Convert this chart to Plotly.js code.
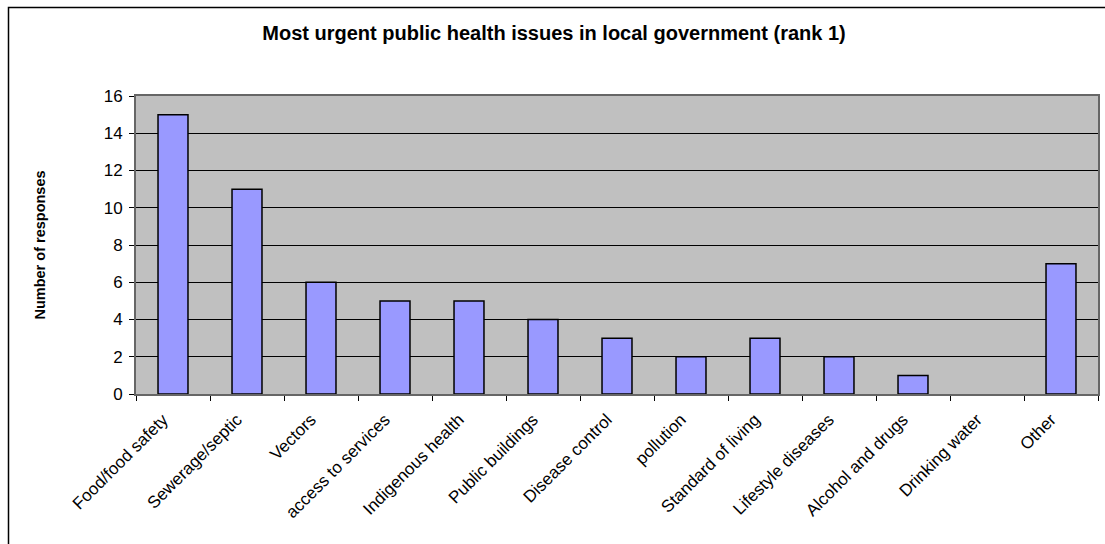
<!DOCTYPE html>
<html>
<head>
<meta charset="utf-8">
<script src="https://cdn.plot.ly/plotly-3.0.1.min.js"></script>
<style>html,body{margin:0;padding:0;background:#fff;}#chart{width:1105px;height:544px;}</style>
</head>
<body>
<div id="chart"></div>
<script>
const categories = ["Food/food safety","Sewerage/septic","Vectors","access to services","Indigenous health","Public buildings","Disease control","pollution","Standard of living","Lifestyle diseases","Alcohol and drugs","Drinking water","Other"];
const responses = [15, 11, 6, 5, 5, 4, 3, 2, 3, 2, 1, 0, 7];
const yTicks = [0, 2, 4, 6, 8, 10, 12, 14, 16];
const chartTitle = "Most urgent public health issues in local government (rank 1)";
const yTitle = "Number of responses";

const ML = 136, MR = 7, MT = 96, MB = 150, W = 1105, H = 544;
const pw = W - ML - MR, ph = H - MT - MB;

const trace = {
  type: "bar",
  x: categories,
  y: responses,
  marker: {
    color: "#9999FF",
    line: { color: "#000000", width: responses.map(v => v === 0 ? 0 : 1.5) }
  },
  hoverinfo: "x+y"
};

const layout = {
  width: W, height: H,
  margin: { l: ML, r: MR, t: MT, b: MB, pad: 0 },
  paper_bgcolor: "#ffffff",
  plot_bgcolor: "#C0C0C0",
  bargap: 0.595,
  showlegend: false,
  font: { family: "Arial, 'Liberation Sans', sans-serif", color: "#000000" },
  title: {
    text: "<b>" + chartTitle + "</b>",
    font: { size: 20, family: "Arial, 'Liberation Sans', sans-serif", color: "#000" },
    x: 554 / W, xref: "container", xanchor: "center", y: 1 - 33 / H, yanchor: "middle"
  },
  xaxis: {
    type: "category",
    tickangle: -45,
    tickfont: { size: 17 },
    ticks: "outside", ticklen: 5, tickcolor: "#000", tickwidth: 1,
    tickson: "boundaries",
    ticklabelstandoff: 7,
    ticklabelshift: -10,
    showgrid: false,
    showline: true, linecolor: "#666", linewidth: 2,
    mirror: true,
    automargin: false
  },
  yaxis: {
    range: [0, 16],
    tickvals: yTicks,
    tickfont: { size: 17 },
    ticks: "outside", ticklen: 5, tickcolor: "#000", tickwidth: 1,
    ticklabelstandoff: 3,
    showgrid: true, gridcolor: "#000000", gridwidth: 1,
    zeroline: false,
    showline: true, linecolor: "#666", linewidth: 2,
    mirror: true,
    automargin: false,
    title: { text: "<b>" + yTitle + "</b>", font: { size: 14.5 }, standoff: 55 }
  },
  shapes: [{
    type: "rect", xref: "paper", yref: "paper",
    x0: (8.5 - ML) / pw, x1: 1.5,
    y0: -1, y1: (H - MB - 7.5) / ph,
    line: { color: "#000", width: 1.5 },
    fillcolor: "rgba(0,0,0,0)", layer: "below"
  }]
};

Plotly.newPlot("chart", [trace], layout, { displayModeBar: false, staticPlot: true });
</script>
</body>
</html>
